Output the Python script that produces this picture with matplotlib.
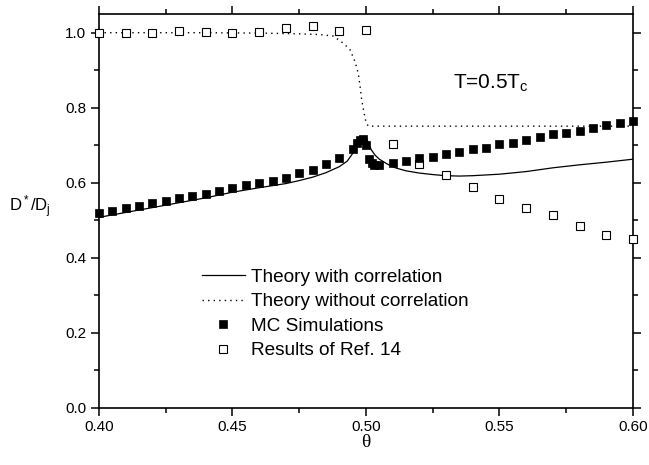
import matplotlib
matplotlib.use("Agg")
import matplotlib.pyplot as plt
from matplotlib.ticker import MultipleLocator

plt.rcParams['font.family'] = ['Liberation Sans', 'DejaVu Sans']
plt.rcParams['mathtext.fontset'] = 'custom'
plt.rcParams['mathtext.rm'] = 'Liberation Sans'
plt.rcParams['mathtext.it'] = 'Liberation Sans'
plt.rcParams['mathtext.default'] = 'regular'

# MC simulations (filled squares)
mc_theta = [0.400, 0.405, 0.410, 0.415, 0.420, 0.425, 0.430, 0.435, 0.440, 0.445,
            0.450, 0.455, 0.460, 0.465, 0.470, 0.475, 0.480, 0.485, 0.490,
            0.4953, 0.4965, 0.4978, 0.4990, 0.5000, 0.5012, 0.5021, 0.5031, 0.505,
            0.510, 0.515, 0.520, 0.525, 0.530, 0.535, 0.540, 0.545, 0.550, 0.555,
            0.560, 0.565, 0.570, 0.575, 0.580, 0.585, 0.590, 0.595, 0.600]
mc_val = [0.519, 0.526, 0.533, 0.539, 0.546, 0.552, 0.559, 0.564, 0.570, 0.577,
          0.586, 0.594, 0.600, 0.606, 0.614, 0.625, 0.635, 0.651, 0.666,
          0.691, 0.706, 0.715, 0.716, 0.701, 0.663, 0.654, 0.648, 0.647,
          0.654, 0.659, 0.666, 0.670, 0.676, 0.683, 0.690, 0.694, 0.703, 0.707,
          0.715, 0.721, 0.729, 0.734, 0.739, 0.745, 0.753, 0.759, 0.765]

# Results of Ref. 14 (open squares)
ref_theta = [0.40, 0.41, 0.42, 0.43, 0.44, 0.45, 0.46, 0.47, 0.48, 0.49, 0.50,
             0.51, 0.52, 0.53, 0.54, 0.55, 0.56, 0.57, 0.58, 0.59, 0.60]
ref_val = [0.999, 0.998, 0.999, 1.004, 1.003, 1.000, 1.003, 1.012, 1.017, 1.004, 1.008,
           0.704, 0.650, 0.620, 0.588, 0.557, 0.532, 0.513, 0.484, 0.462, 0.450]

# theory with correlation (solid)
tc_theta = [0.400, 0.410, 0.420, 0.430, 0.440, 0.450, 0.460, 0.470, 0.475, 0.480,
            0.485, 0.490, 0.493, 0.495, 0.4965, 0.498, 0.4995, 0.500, 0.501, 0.502,
            0.5035, 0.505, 0.508, 0.511, 0.515, 0.520, 0.525, 0.530, 0.535, 0.540,
            0.550, 0.560, 0.570, 0.580, 0.590, 0.600]
tc_val = [0.508, 0.521, 0.534, 0.547, 0.560, 0.575, 0.587, 0.598, 0.606, 0.615,
          0.627, 0.643, 0.658, 0.678, 0.698, 0.714, 0.722, 0.722, 0.705, 0.688,
          0.673, 0.663, 0.650, 0.640, 0.632, 0.626, 0.622, 0.619, 0.618, 0.619,
          0.623, 0.630, 0.640, 0.648, 0.655, 0.663]

# theory without correlation (dotted)
tn_theta = [0.400, 0.420, 0.440, 0.460, 0.4753, 0.4828, 0.4878, 0.4915, 0.494,
            0.4959, 0.4971, 0.4978, 0.4984, 0.4993, 0.500, 0.5009, 0.520, 0.550, 0.600]
tn_val = [1.000, 1.000, 1.000, 0.999, 0.997, 0.995, 0.991, 0.972, 0.955,
          0.923, 0.892, 0.857, 0.821, 0.786, 0.761, 0.751, 0.751, 0.751, 0.751]

fig = plt.figure(figsize=(6.49, 4.65), dpi=100)
ax = fig.add_axes([0.1525, 0.1226, 0.8228, 0.8474])

ax.plot(tc_theta, tc_val, color='black', lw=0.9, label='Theory with correlation', zorder=2)
ax.plot(tn_theta, tn_val, color='black', lw=1.0, linestyle=(0, (1, 3)),
        label='Theory without correlation', zorder=2)
ref = ax.plot(ref_theta, ref_val, linestyle='none', marker='s', ms=5.5, mfc='white',
              mec='black', mew=0.8, zorder=3, clip_on=False)[0]
mc = ax.plot(mc_theta, mc_val, linestyle='none', marker='s', ms=6, mfc='black',
             mec='black', mew=0.5, zorder=4, clip_on=False)[0]

ax.set_xlim(0.40, 0.60)
ax.set_ylim(0.0, 1.05)
ax.xaxis.set_major_locator(MultipleLocator(0.05))
ax.xaxis.set_minor_locator(MultipleLocator(0.025))
ax.yaxis.set_major_locator(MultipleLocator(0.2))
ax.yaxis.set_minor_locator(MultipleLocator(0.1))
ax.set_xticklabels([f'{v:.2f}' for v in ax.get_xticks()])
ax.set_yticklabels([f'{v:.1f}' for v in ax.get_yticks()])
ax.tick_params(which='both', direction='out', top=True, right=True, width=1.1, labelsize=11)
ax.tick_params(which='major', length=6, pad=3)
ax.tick_params(which='minor', length=3.5)
for s in ax.spines.values():
    s.set_linewidth(1.2)

ax.text(0.5326, 0.851, 'T=0.5T$_c$', fontsize=15, va='baseline')

ax.text(-0.1685, (408 - 212) / 394, 'D$^*$/D$_j$', transform=ax.transAxes,
        fontsize=12, va='baseline', ha='left')
ax.set_xlabel('\u03b8', family=['Liberation Serif'], fontsize=14, labelpad=0)

h = ax.get_legend_handles_labels()[0]
ax.legend(h + [mc, ref],
          ['Theory with correlation', 'Theory without correlation',
           'MC Simulations', 'Results of Ref. 14'],
          loc='center left', bbox_to_anchor=(0.193, 0.2386), frameon=False,
          fontsize=13.7, handlelength=2.25, handletextpad=0.3, labelspacing=0.38,
          borderpad=0, borderaxespad=0, numpoints=1)

fig.savefig('out.png', dpi=100)
